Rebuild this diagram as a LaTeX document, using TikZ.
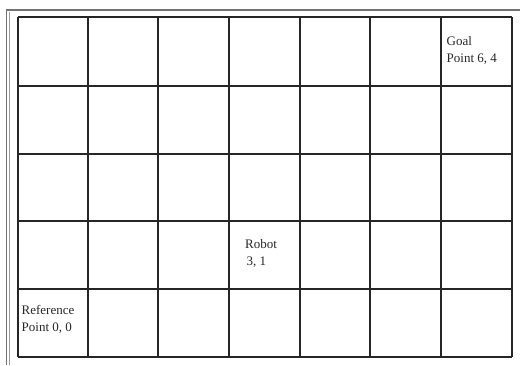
\documentclass[tikz,border=0pt]{standalone}
\usepackage{fontspec}
\setmainfont{Liberation Serif}
\begin{document}
\begin{tikzpicture}[x=1pt,y=-1pt,
  gridline/.style={line width=1.8pt,black!85},
  frameline/.style={line width=1.2pt,black!55},
  lbl/.style={font=\fontsize{13}{17}\selectfont,align=left,inner sep=0pt,anchor=north west,text=black!85}]
\useasboundingbox (0,0) rectangle (520,365);
% outer frame
\draw[frameline] (6,10) -- (520,10);
\draw[frameline] (6.5,10) -- (6.5,365);
\draw[line width=0.5pt,black!40] (9,12) -- (9,365);
% grid
\foreach \x in {18,88,158,229,300,370,441,512}
  \draw[gridline] (\x,17) -- (\x,357);
\foreach \y in {17,86,154,221,289,357}
  \draw[gridline] (18,\y) -- (512,\y);
% labels
\node[lbl] (goal) at (446.5,36.5) {Goal\\Point 6, 4};
\node[lbl] (robot) at (245,239.5) {Robot\\\hspace*{1.5pt}3, 1};
\node[lbl] (ref) at (21.5,305) {Reference\\Point 0, 0};
\end{tikzpicture}
\end{document}
